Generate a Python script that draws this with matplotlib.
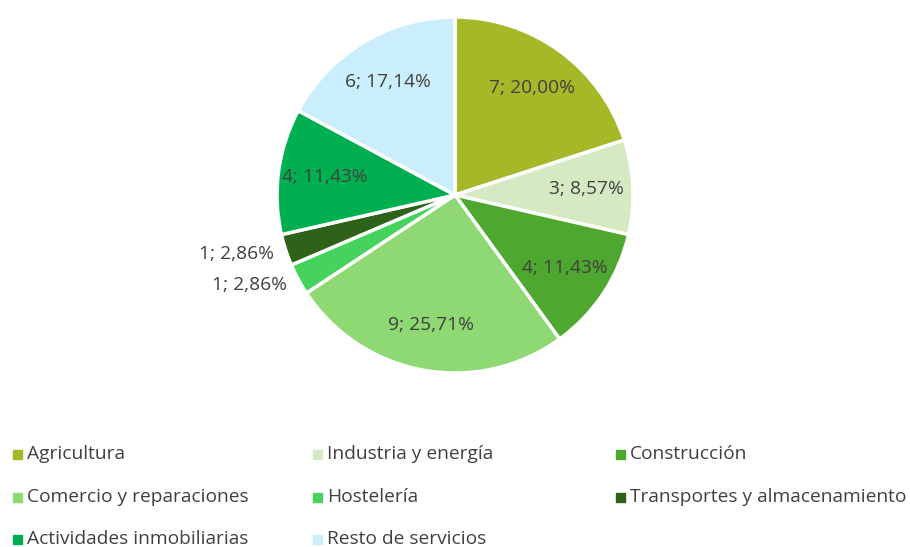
import numpy as np
import matplotlib.pyplot as plt
from matplotlib.patches import Rectangle

plt.rcParams['font.family'] = ['Open Sans', 'DejaVu Sans']

sectores = ["Agricultura", "Industria y energía", "Construcción",
            "Comercio y reparaciones", "Hostelería", "Transportes y almacenamiento",
            "Actividades inmobiliarias", "Resto de servicios"]
empresas = [7, 3, 4, 9, 1, 1, 4, 6]
colores = ["#a5b828", "#d5eac2", "#4ea72e", "#8ed973",
           "#45d35e", "#2d6218", "#00b050", "#caeefb"]

total = sum(empresas)
etiquetas = [f"{v}; {v / total * 100:.2f}%".replace(".", ",") for v in empresas]

fig = plt.figure(figsize=(9.1, 5.47), dpi=100)
W, H = 910, 547
cx, cy, r = 455, 195, 178
ax = fig.add_axes([(cx - r) / W, (H - cy - r) / H, 2 * r / W, 2 * r / H])

wedges, _ = ax.pie(empresas, colors=colores, startangle=90, counterclock=False,
                   radius=1.0, wedgeprops=dict(edgecolor="white", linewidth=2.5))
ax.set_xlim(-1, 1)
ax.set_ylim(-1, 1)
ax.set_aspect("equal")
ax.axis("off")

txt_color = "#404040"
fs = 13.8
for w, lab, v in zip(wedges, etiquetas, empresas):
    ang = np.deg2rad((w.theta1 + w.theta2) / 2)
    if v / total < 0.05:
        rr = 1.07
        ax.text(rr * np.cos(ang), rr * np.sin(ang), lab, ha="right", va="center",
                fontsize=fs, color=txt_color)
    else:
        rr = 0.74
        ax.text(rr * np.cos(ang), rr * np.sin(ang), lab, ha="center", va="center",
                fontsize=fs, color=txt_color)

# legend in a 3-column grid
col_x = [17, 317, 620]
row_y = [454, 497, 539]
for i, (name, c) in enumerate(zip(sectores, colores)):
    x = col_x[i % 3]
    y = row_y[i // 3]
    fig.patches.append(Rectangle(((x - 4.5) / W, (H - y - 4.5) / H), 9 / W, 9 / H,
                                 transform=fig.transFigure, color=c, figure=fig))
    fig.text((x + 10) / W, (H - y) / H, name, ha="left", va="center",
             fontsize=fs, color=txt_color)

fig.savefig("out.png", dpi=100)
